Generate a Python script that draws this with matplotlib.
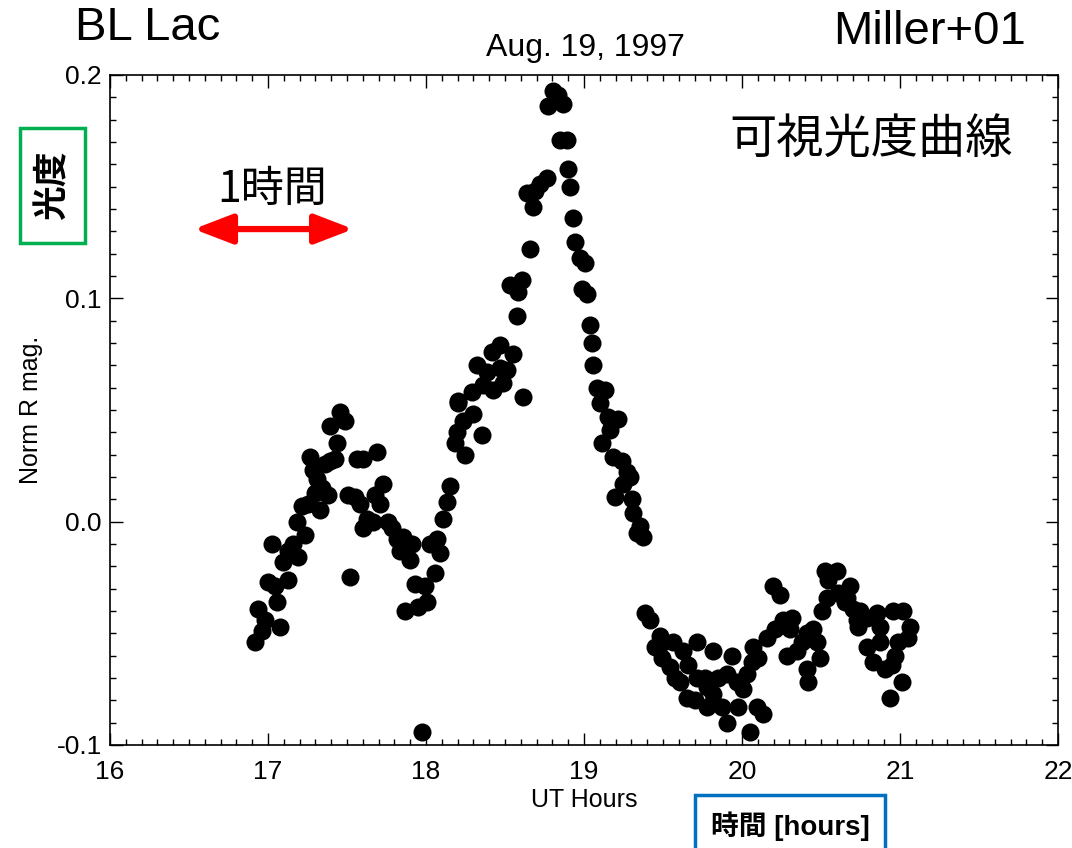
import matplotlib
matplotlib.use('Agg')
import matplotlib.pyplot as plt
from matplotlib.patches import Rectangle
from matplotlib.ticker import MultipleLocator, FormatStrFormatter

# BL Lac optical light curve, Aug. 19 1997 (Miller+01)
ut_hours = [
    # first hump
    16.918, 16.962, 16.981, 17.076, 16.937, 17.057, 17.000, 17.044, 17.127, 17.025,
    17.095, 17.127, 17.158, 17.190, 17.234, 17.184, 17.215, 17.253, 17.329, 17.297,
    17.342, 17.380, 17.310, 17.285, 17.266, 17.361, 17.392, 17.424, 17.437, 17.392,
    17.456, 17.487, 17.519, 17.563, 17.601, 17.690, 17.506, 17.551, 17.582, 17.627,
    17.601, 17.665, 17.677, 17.728, 17.709, 17.759, 17.785, 17.816, 17.854, 17.835,
    17.911, 17.899, 17.930, 17.994, 18.057, 18.006, 17.949, 17.867, 18.025, 18.089,
    18.070, 18.108, 18.133, 18.152, 18.184, 18.196, 18.203, 17.975,
    # flare peak
    18.804, 18.835, 18.772, 18.867, 18.848, 18.892, 18.899, 18.911, 18.930, 18.943,
    18.975, 19.006, 18.987, 19.019, 19.038, 19.051, 19.057, 19.082, 19.133, 19.101,
    19.152, 19.215, 19.165, 19.114, 19.184, 19.241, 19.272, 19.291, 19.247, 19.196,
    19.304, 19.310, 19.354, 19.335, 19.373,
    18.766, 18.722, 18.690, 18.639, 18.677, 18.658, 18.608, 18.532, 18.582, 18.576,
    18.468, 18.418, 18.551, 18.323, 18.386, 18.468, 18.513, 18.487, 18.424, 18.361,
    18.291, 18.614, 18.203, 18.297, 18.234, 18.354, 18.247,
    # post-flare low state
    19.386, 19.418, 19.481, 19.449, 19.500, 19.563, 19.494, 19.627, 19.715, 19.544,
    19.658, 19.576, 19.608, 19.715, 19.766, 19.816, 19.652, 19.703, 19.778, 19.816,
    19.848, 19.905, 19.937, 19.968, 20.006, 20.032, 19.778, 19.873, 19.975, 19.905,
    20.051, 20.095, 20.133, 20.070, 20.101, 20.063, 20.158, 20.209, 20.259, 20.316,
    20.304, 20.196, 20.241, 20.285, 20.348, 20.380, 20.411, 20.449, 20.475, 20.494,
    20.411, 20.418, 20.506, 20.525, 20.601, 20.544, 20.538, 20.608, 20.684, 20.665,
    20.652, 20.703, 20.747, 20.728, 20.734, 20.791, 20.854, 20.873, 20.791, 20.829,
    20.873, 20.905, 20.949, 20.937, 21.013, 20.956, 21.019, 21.063, 21.051, 20.987,
    20.968,
]
norm_r_mag = [
    -0.054, -0.049, -0.044, -0.047, -0.039, -0.036, -0.027, -0.029, -0.026, -0.010,
    -0.018, -0.013, -0.010, -0.016, -0.006, 0.000, 0.007, 0.008, 0.005, 0.013,
    0.015, 0.012, 0.019, 0.023, 0.029, 0.026, 0.027, 0.028, 0.035, 0.043,
    0.049, 0.045, -0.025, 0.028, 0.028, 0.031, 0.012, 0.011, 0.008, 0.001,
    -0.003, 0.000, 0.012, 0.017, 0.008, 0.000, -0.003, -0.008, -0.007, -0.013,
    -0.010, -0.017, -0.028, -0.029, -0.023, -0.036, -0.038, -0.040, -0.010, -0.014,
    -0.008, 0.001, 0.009, 0.016, 0.035, 0.040, 0.053, -0.094,
    0.193, 0.191, 0.186, 0.187, 0.171, 0.171, 0.158, 0.150, 0.136, 0.125,
    0.118, 0.116, 0.104, 0.102, 0.088, 0.080, 0.070, 0.060, 0.059, 0.053,
    0.047, 0.046, 0.041, 0.035, 0.029, 0.027, 0.022, 0.020, 0.017, 0.011,
    0.010, 0.004, -0.002, -0.005, -0.007,
    0.154, 0.151, 0.148, 0.147, 0.141, 0.122, 0.108, 0.106, 0.103, 0.092,
    0.079, 0.076, 0.075, 0.070, 0.067, 0.069, 0.068, 0.062, 0.059, 0.061,
    0.058, 0.056, 0.054, 0.048, 0.045, 0.039, 0.030,
    -0.041, -0.044, -0.051, -0.056, -0.054, -0.054, -0.061, -0.058, -0.054, -0.065,
    -0.064, -0.070, -0.072, -0.070, -0.070, -0.058, -0.079, -0.080, -0.074, -0.077,
    -0.070, -0.068, -0.060, -0.072, -0.075, -0.068, -0.083, -0.083, -0.083, -0.090,
    -0.094, -0.083, -0.086, -0.056, -0.061, -0.063, -0.052, -0.048, -0.044, -0.043,
    -0.048, -0.029, -0.033, -0.060, -0.058, -0.054, -0.050, -0.048, -0.054, -0.061,
    -0.066, -0.072, -0.040, -0.022, -0.022, -0.026, -0.034, -0.032, -0.029, -0.034,
    -0.036, -0.039, -0.040, -0.044, -0.047, -0.043, -0.041, -0.047, -0.056, -0.063,
    -0.054, -0.066, -0.064, -0.079, -0.072, -0.040, -0.040, -0.047, -0.052, -0.054,
    -0.060,
]

plt.rcParams['font.family'] = ['Liberation Sans', 'Noto Sans CJK JP', 'DejaVu Sans']
plt.rcParams['axes.unicode_minus'] = False
cjk = ['Noto Sans CJK JP', 'DejaVu Sans']

fig = plt.figure(figsize=(10.72, 8.48), dpi=100)
ax = fig.add_axes([0.1026, 0.1215, 0.8844, 0.7901])

ax.plot(ut_hours, norm_r_mag, 'o', color='black', ms=13, mew=0)

ax.set_xlim(16, 22)
ax.set_ylim(-0.1, 0.2)
ax.xaxis.set_major_locator(MultipleLocator(1))
ax.xaxis.set_minor_locator(MultipleLocator(0.1))
ax.yaxis.set_major_locator(MultipleLocator(0.1))
ax.yaxis.set_minor_locator(MultipleLocator(0.01))
ax.yaxis.set_major_formatter(FormatStrFormatter('%.1f'))
ax.tick_params(which='both', direction='in', top=True, right=True, width=1)
ax.tick_params(which='major', length=9, labelsize=19)
ax.tick_params(axis='x', which='major', pad=11)
ax.tick_params(axis='y', which='major', pad=6)
ax.tick_params(which='minor', length=4.5)
for s in ax.spines.values():
    s.set_linewidth(1.2)

ax.set_xlabel('UT Hours', fontsize=18, labelpad=3)
ax.set_ylabel('Norm R mag.', fontsize=18, labelpad=10)

# header texts
fig.text(0.070, 0.967, 'BL Lac', fontsize=34, ha='left', va='center')
fig.text(0.957, 0.962, 'Miller+01', fontsize=34, ha='right', va='center')
fig.text(0.546, 0.943, 'Aug. 19, 1997', fontsize=23, ha='center', va='center')
fig.text(0.813, 0.835, '可視光度曲線', fontsize=34, ha='center', va='center', family=cjk)

# one-hour scale arrow
fig.text(0.254, 0.776, '1時間', fontsize=31, ha='center', va='center', family=cjk)
ax.annotate('', xy=(17.54, 0.131), xytext=(16.53, 0.131),
            arrowprops=dict(arrowstyle='<|-|>,head_length=1.3,head_width=0.5',
                            mutation_scale=18, color='red', lw=4.5,
                            shrinkA=0, shrinkB=0))

# boxed Japanese axis captions
fig.patches.append(Rectangle((0.0187, 0.7134), 0.0606, 0.1356, transform=fig.transFigure,
                             fc='white', ec='#00b050', lw=2.5))
fig.text(0.0490, 0.782, '光度', fontsize=25, fontweight='bold', rotation=90,
         ha='center', va='center', family=cjk)
fig.patches.append(Rectangle((0.6483, -0.01), 0.1772, 0.0725, transform=fig.transFigure,
                             fc='white', ec='#0070c0', lw=2.5))
fig.text(0.7369, 0.026, '時間 [hours]', fontsize=20, fontweight='bold',
         ha='center', va='center', family=['Liberation Sans', 'Noto Sans CJK JP'])

fig.savefig('out.png', dpi=100)
